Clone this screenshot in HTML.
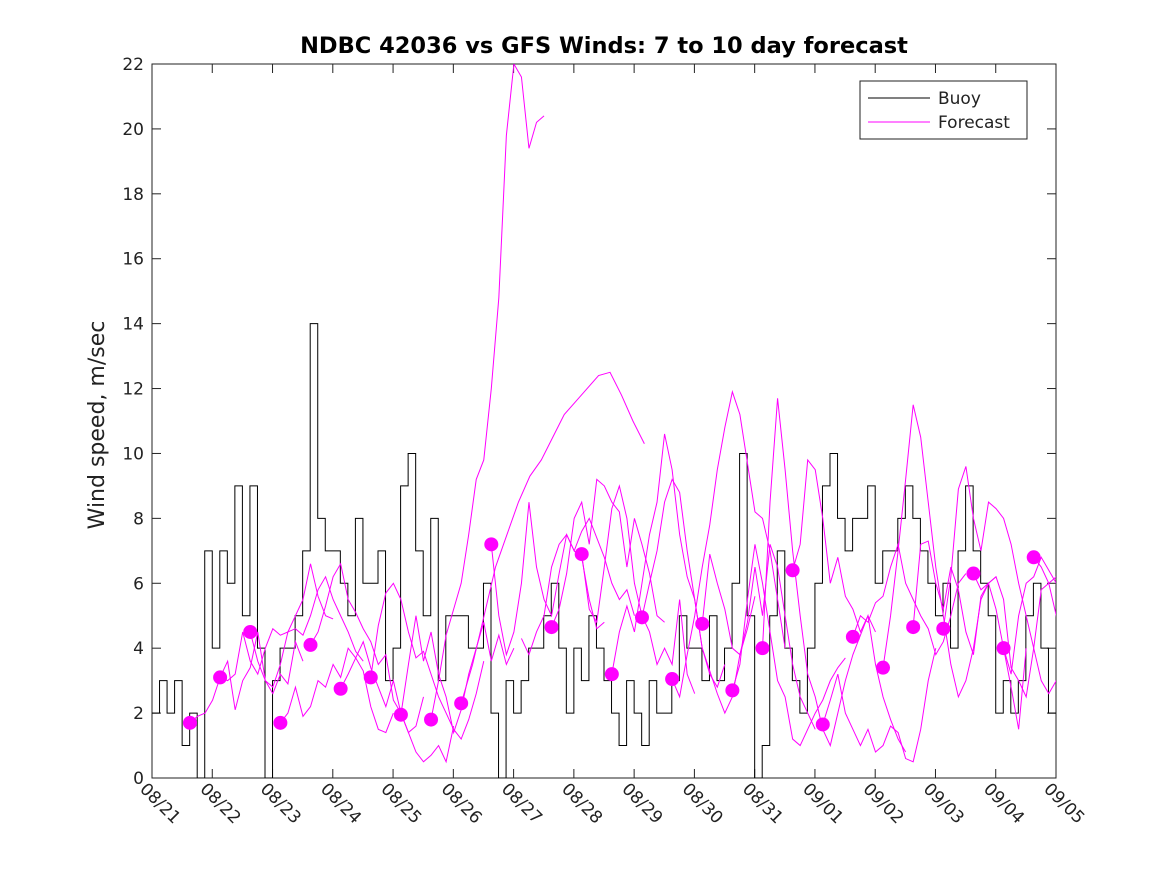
<!DOCTYPE html>
<html><head><meta charset="utf-8"><style>
html,body{margin:0;padding:0;background:#fff;}
svg{display:block;font-family:"DejaVu Sans","Liberation Sans",sans-serif;}
</style></head><body>
<svg id="chart" width="1167" height="875" viewBox="0 0 1167 875">
<defs><clipPath id="clip"><rect x="152" y="64" width="904" height="714"/></clipPath></defs>
<rect x="0" y="0" width="1167" height="875" fill="#fff"/>
<text x="604" y="53" text-anchor="middle" font-size="22.5" font-weight="bold" fill="#000">NDBC 42036 vs GFS Winds: 7 to 10 day forecast</text>
<text transform="translate(104,425) rotate(-90)" text-anchor="middle" font-size="22" fill="#222">Wind speed, m/sec</text>
<g id="axes"></g>
<g id="series" clip-path="url(#clip)"></g>
<g id="legend">
<rect x="860" y="81" width="167" height="58" fill="#fff" stroke="#222" stroke-width="1"/>
<line x1="868" y1="98" x2="930" y2="98" stroke="#000" stroke-width="1"/>
<text x="938" y="104" font-size="17" fill="#222">Buoy</text>
<line x1="868" y1="122" x2="930" y2="122" stroke="#f0f" stroke-width="1"/>
<text x="938" y="128" font-size="17" fill="#222">Forecast</text>
</g>
</svg>
<script>
const xTickLabels = ["08/21","08/22","08/23","08/24","08/25","08/26","08/27","08/28","08/29","08/30","08/31","09/01","09/02","09/03","09/04","09/05"];
const yTicks = [0,2,4,6,8,10,12,14,16,18,20,22];
const buoyStep = 0.125;
const buoyValues = [
2,3,2,3,1,2,0,7,
4,7,6,9,5,9,4,0,
3,4,4,5,7,14,8,7,
7,6,5,8,6,6,7,3,
4,9,10,7,5,8,3,5,
5,5,4,4,6,2,0,3,
2,3,4,4,5,6,4,2,
4,3,5,4,3,2,1,3,
2,1,3,2,2,3,5,4,
4,3,5,3,4,6,10,5,
0,1,5,7,4,3,2,4,
6,9,10,8,7,8,8,9,
6,7,7,8,9,8,7,6,
5,6,4,7,9,7,6,5,
2,3,2,3,5,6,4,2,2];
const dotDays = [0.63,1.13,1.63,2.13,2.63,3.13,3.63,4.13,4.63,5.13,5.63,6.63,7.13,7.63,8.13,8.63,9.13,9.63,10.13,10.63,11.13,11.63,12.13,12.63,13.13,13.63,14.13,14.63];
const dotValues = [1.7,3.1,4.5,1.7,4.1,2.75,3.1,1.95,1.8,2.3,7.2,4.65,6.9,3.2,4.95,3.05,4.75,2.7,4.0,6.4,1.65,4.35,3.4,4.65,4.6,6.3,4.0,6.8];
const fcStarts = [0.63,1.13,1.63,2.13,2.63,3.13,3.63,4.13,4.63,5.13,5.63,6.13,6.63,7.13,7.63,8.13,8.63,9.13,9.63,10.13,10.63,11.13,11.63,12.13,12.63,13.13,13.63,14.13,14.63];
const fcSteps = [0.125,0.125,0.125,0.125,0.125,0.125,0.125,0.125,0.125,0.19,0.125,0.125,0.125,0.125,0.125,0.125,0.125,0.125,0.125,0.125,0.125,0.125,0.125,0.125,0.125,0.125,0.125,0.125,0.125];
const fcValues = [
[1.7,1.9,2.0,2.4,3.1,3.6,2.1,3.0,3.4,4.5,3.0,2.6,3.2,2.9,4.2,3.6],
[3.1,3.0,3.2,4.5,3.6,3.2,4.0,4.6,4.4,4.5,5.0,5.5,6.6,5.6,5.0,4.9],
[4.5,3.6,3.0,2.8,3.5,4.5,4.6,4.4,5.0,5.8,6.2,5.5,5.0,4.5,3.9,3.6],
[1.7,2.0,2.8,1.9,2.2,3.0,2.8,3.5,3.1,4.0,3.7,3.3,2.2,1.5,1.4,2.0],
[4.1,4.5,5.3,6.2,6.6,5.5,5.1,4.6,4.2,3.5,3.8,2.4,2.0,1.4,1.6,2.5],
[2.75,3.2,3.7,4.2,3.4,2.8,2.2,3.0,2.0,1.4,0.8,0.5,0.7,1.0,0.5,1.6],
[3.1,4.7,5.7,6.0,5.5,4.5,3.7,3.9,3.2,2.5,2.0,1.5,1.2,1.8,2.6,3.6],
[1.95,3.5,5.0,3.6,4.5,3.2,2.5,1.4,2.1,3.2,4.0,4.8,3.6,4.4,3.5,4.0],
[1.8,3.0,4.4,5.2,6.0,7.5,9.2,9.8,12,14.8,19.8,22,21.6,19.4,20.2,20.4],
[2.3,3.5,5.0,6.5,7.5,8.5,9.3,9.8,10.5,11.2,11.6,12.0,12.4,12.5,11.8,11.0,10.3],
[7.2,5.0,3.8,4.5,6.0,8.5,6.5,5.5,5.0,6.3,7.5,7.0,6.8,5.5,4.6,4.8],
[4.3,3.8,4.5,5.0,6.5,7.2,7.5,7.0,7.6,8.0,7.4,6.8,6.0,5.5,5.8,5.0],
[4.65,5.2,6.3,8.0,8.5,7.2,9.2,9.0,8.5,8.2,6.5,8.0,7.2,6.3,5.0,4.8],
[6.9,5.2,4.8,6.5,8.3,9.0,8.0,6.0,5.0,4.5,3.5,4.0,3.5,5.5,3.2,2.6],
[3.2,4.5,5.3,4.5,6.0,7.5,8.5,10.6,9.5,7.5,6.2,5.5,4.0,3.2,2.8,3.5],
[4.95,6.0,7.0,8.5,9.2,8.8,7.0,5.5,4.0,3.3,2.6,2.0,2.5,3.8,4.6,5.6],
[3.05,2.5,3.8,5.0,6.5,7.8,9.5,10.8,11.9,11.2,9.7,8.2,8.0,7.0,5.5,4.0],
[4.75,6.9,6.0,5.2,4.0,3.8,4.8,6.5,5.0,7.2,6.5,5.0,3.5,2.5,2.0,1.5],
[2.7,3.5,5.5,7.2,6.0,4.5,3.0,2.5,1.2,1.0,1.5,2.0,2.4,3.0,3.4,3.7],
[4.0,8.5,11.7,9.5,7.0,5.0,3.2,2.5,1.5,1.0,2.0,3.0,3.8,4.4,5.0,4.5],
[6.4,7.2,9.8,9.5,8.0,6.0,6.8,5.6,5.2,4.5,5.0,3.5,2.5,1.8,1.2,0.8],
[1.65,2.4,3.2,2.0,1.5,1.0,1.5,0.8,1.0,1.6,1.4,0.6,0.5,1.5,3.0,4.0],
[4.35,5.0,4.8,5.4,5.6,6.5,7.2,6.0,5.5,5.0,4.6,3.8,4.2,5.0,6.0,6.3],
[3.4,5.0,7.0,9.2,11.5,10.5,8.5,6.5,5.0,3.5,2.5,3.0,4.0,5.5,6.0,6.2],
[4.65,7.2,7.3,6.0,5.2,6.5,5.8,4.5,3.8,5.6,6.0,5.2,4.0,2.8,1.5,4.0],
[4.6,6.2,8.9,9.6,8.0,7.0,8.5,8.3,8.0,7.2,6.0,5.0,4.0,3.0,2.6,3.0],
[6.3,5.8,6.0,6.2,5.5,3.4,3.0,2.5,4.0,5.8,6.0,6.2,5.8,6.5,5.0,3.0],
[4.0,3.2,5.0,6.0,6.2,6.8,6.4,6.0,3.5,2.0,0.7],
[6.8,6.5,6.0,5.0,3.0]
];
const NS="http://www.w3.org/2000/svg";
const L=152,R=1056,T=64,B=778;
function xs(d){return L+(R-L)*d/15;}
function ys(v){return B-(B-T)*v/22;}
function mk(tag,attrs,parent){const e=document.createElementNS(NS,tag);for(const k in attrs)e.setAttribute(k,attrs[k]);parent.appendChild(e);return e;}
const axes=document.getElementById('axes');
const series=document.getElementById('series');
const box=mk('rect',{x:L,y:T,width:R-L,height:B-T,fill:'none',stroke:'#222','stroke-width':1},axes);


yTicks.forEach(v=>{
  const y=ys(v);
  mk('line',{x1:L,y1:y,x2:L+9,y2:y,stroke:'#222'},axes);
  mk('line',{x1:R,y1:y,x2:R-9,y2:y,stroke:'#222'},axes);
  const t=mk('text',{x:L-8,y:y+6,'text-anchor':'end','font-size':17,fill:'#222'},axes);
  t.textContent=v;
  
  
});
xTickLabels.forEach((lab,i)=>{
  const x=xs(i);
  mk('line',{x1:x,y1:B,x2:x,y2:B-9,stroke:'#222'},axes);
  mk('line',{x1:x,y1:T,x2:x,y2:T+9,stroke:'#222'},axes);
  const t=mk('text',{x:0,y:0,transform:`translate(${x-13},${B+12}) rotate(45)`,'font-size':17,fill:'#222'},axes);
  t.textContent=lab;
  
  
});
let d='';
buoyValues.forEach((v,i)=>{const x=xs(i*buoyStep),y=ys(v);d+=(i?`L${x},${ys(buoyValues[i-1])}L${x},${y}`:`M${x},${y}`);});
const bl=mk('path',{d:d,fill:'none',stroke:'#000','stroke-width':1},series);


fcValues.forEach((vals,j)=>{
  const pts=vals.map((v,i)=>`${xs(fcStarts[j]+i*fcSteps[j])},${ys(v)}`).join(' ');
  const p=mk('polyline',{points:pts,fill:'none',stroke:'#f0f','stroke-width':1},series);
  
  
});
dotDays.forEach((dd,i)=>{
  const c=mk('circle',{cx:xs(dd),cy:ys(dotValues[i]),r:7,fill:'#f0f'},series);
  
  
});
</script>
</body></html>
